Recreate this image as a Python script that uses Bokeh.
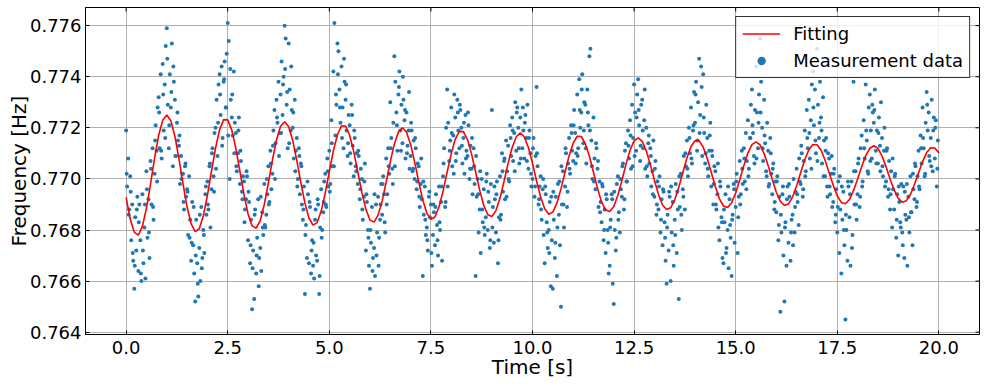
import math
from bokeh.plotting import figure
from bokeh.models import Range1d, PrintfTickFormatter, Legend, LegendItem, FixedTicker
from bokeh.embed import file_html
from bokeh.resources import INLINE

# ---------------- data ----------------
x_ticks = [0.0, 2.5, 5.0, 7.5, 10.0, 12.5, 15.0, 17.5, 20.0]
y_ticks = [0.764, 0.766, 0.768, 0.770, 0.772, 0.774, 0.776]

time_s = [
    0.0, 0.025, 0.05, 0.075, 0.1, 0.125, 0.15, 0.175, 0.2, 0.225, 0.25, 0.275, 0.3, 0.325, 0.35, 0.375, 0.4, 0.425, 0.45, 0.475, 0.5, 0.525, 0.55, 0.575, 0.6, 0.625, 0.65, 0.675, 0.7, 0.725, 0.75, 0.775, 0.8, 0.825, 0.85, 0.875, 0.9, 0.925, 0.95, 0.975,
    1.0, 1.025, 1.05, 1.075, 1.1, 1.125, 1.15, 1.175, 1.2, 1.225, 1.25, 1.275, 1.3, 1.325, 1.35, 1.375, 1.4, 1.425, 1.45, 1.475, 1.5, 1.525, 1.55, 1.575, 1.6, 1.625, 1.65, 1.675, 1.7, 1.725, 1.75, 1.775, 1.8, 1.825, 1.85, 1.875, 1.9, 1.925, 1.95, 1.975,
    2.0, 2.025, 2.05, 2.075, 2.1, 2.125, 2.15, 2.175, 2.2, 2.225, 2.25, 2.275, 2.3, 2.325, 2.35, 2.375, 2.4, 2.425, 2.45, 2.475, 2.5, 2.525, 2.55, 2.575, 2.6, 2.625, 2.65, 2.675, 2.7, 2.725, 2.75, 2.775, 2.8, 2.825, 2.85, 2.875, 2.9, 2.925, 2.95, 2.975,
    3.0, 3.025, 3.05, 3.075, 3.1, 3.125, 3.15, 3.175, 3.2, 3.225, 3.25, 3.275, 3.3, 3.325, 3.35, 3.375, 3.4, 3.425, 3.45, 3.475, 3.5, 3.525, 3.55, 3.575, 3.6, 3.625, 3.65, 3.675, 3.7, 3.725, 3.75, 3.775, 3.8, 3.825, 3.85, 3.875, 3.9, 3.925, 3.95, 3.975,
    4.0, 4.025, 4.05, 4.075, 4.1, 4.125, 4.15, 4.175, 4.2, 4.225, 4.25, 4.275, 4.3, 4.325, 4.35, 4.375, 4.4, 4.425, 4.45, 4.475, 4.5, 4.525, 4.55, 4.575, 4.6, 4.625, 4.65, 4.675, 4.7, 4.725, 4.75, 4.775, 4.8, 4.825, 4.85, 4.875, 4.9, 4.925, 4.95, 4.975,
    5.0, 5.025, 5.05, 5.075, 5.1, 5.125, 5.15, 5.175, 5.2, 5.225, 5.25, 5.275, 5.3, 5.325, 5.35, 5.375, 5.4, 5.425, 5.45, 5.475, 5.5, 5.525, 5.55, 5.575, 5.6, 5.625, 5.65, 5.675, 5.7, 5.725, 5.75, 5.775, 5.8, 5.825, 5.85, 5.875, 5.9, 5.925, 5.95, 5.975,
    6.0, 6.025, 6.05, 6.075, 6.1, 6.125, 6.15, 6.175, 6.2, 6.225, 6.25, 6.275, 6.3, 6.325, 6.35, 6.375, 6.4, 6.425, 6.45, 6.475, 6.5, 6.525, 6.55, 6.575, 6.6, 6.625, 6.65, 6.675, 6.7, 6.725, 6.75, 6.775, 6.8, 6.825, 6.85, 6.875, 6.9, 6.925, 6.95, 6.975,
    7.0, 7.025, 7.05, 7.075, 7.1, 7.125, 7.15, 7.175, 7.2, 7.225, 7.25, 7.275, 7.3, 7.325, 7.35, 7.375, 7.4, 7.425, 7.45, 7.475, 7.5, 7.525, 7.55, 7.575, 7.6, 7.625, 7.65, 7.675, 7.7, 7.725, 7.75, 7.775, 7.8, 7.825, 7.85, 7.875, 7.9, 7.925, 7.95, 7.975,
    8.0, 8.025, 8.05, 8.075, 8.1, 8.125, 8.15, 8.175, 8.2, 8.225, 8.25, 8.275, 8.3, 8.325, 8.35, 8.375, 8.4, 8.425, 8.45, 8.475, 8.5, 8.525, 8.55, 8.575, 8.6, 8.625, 8.65, 8.675, 8.7, 8.725, 8.75, 8.775, 8.8, 8.825, 8.85, 8.875, 8.9, 8.925, 8.95, 8.975,
    9.0, 9.025, 9.05, 9.075, 9.1, 9.125, 9.15, 9.175, 9.2, 9.225, 9.25, 9.275, 9.3, 9.325, 9.35, 9.375, 9.4, 9.425, 9.45, 9.475, 9.5, 9.525, 9.55, 9.575, 9.6, 9.625, 9.65, 9.675, 9.7, 9.725, 9.75, 9.775, 9.8, 9.825, 9.85, 9.875, 9.9, 9.925, 9.95, 9.975,
    10.0, 10.025, 10.05, 10.075, 10.1, 10.125, 10.15, 10.175, 10.2, 10.225, 10.25, 10.275, 10.3, 10.325, 10.35, 10.375, 10.4, 10.425, 10.45, 10.475, 10.5, 10.525, 10.55, 10.575, 10.6, 10.625, 10.65, 10.675, 10.7, 10.725, 10.75, 10.775, 10.8, 10.825, 10.85, 10.875, 10.9, 10.925, 10.95, 10.975,
    11.0, 11.025, 11.05, 11.075, 11.1, 11.125, 11.15, 11.175, 11.2, 11.225, 11.25, 11.275, 11.3, 11.325, 11.35, 11.375, 11.4, 11.425, 11.45, 11.475, 11.5, 11.525, 11.55, 11.575, 11.6, 11.625, 11.65, 11.675, 11.7, 11.725, 11.75, 11.775, 11.8, 11.825, 11.85, 11.875, 11.9, 11.925, 11.95, 11.975,
    12.0, 12.025, 12.05, 12.075, 12.1, 12.125, 12.15, 12.175, 12.2, 12.225, 12.25, 12.275, 12.3, 12.325, 12.35, 12.375, 12.4, 12.425, 12.45, 12.475, 12.5, 12.525, 12.55, 12.575, 12.6, 12.625, 12.65, 12.675, 12.7, 12.725, 12.75, 12.775, 12.8, 12.825, 12.85, 12.875, 12.9, 12.925, 12.95, 12.975,
    13.0, 13.025, 13.05, 13.075, 13.1, 13.125, 13.15, 13.175, 13.2, 13.225, 13.25, 13.275, 13.3, 13.325, 13.35, 13.375, 13.4, 13.425, 13.45, 13.475, 13.5, 13.525, 13.55, 13.575, 13.6, 13.625, 13.65, 13.675, 13.7, 13.725, 13.75, 13.775, 13.8, 13.825, 13.85, 13.875, 13.9, 13.925, 13.95, 13.975,
    14.0, 14.025, 14.05, 14.075, 14.1, 14.125, 14.15, 14.175, 14.2, 14.225, 14.25, 14.275, 14.3, 14.325, 14.35, 14.375, 14.4, 14.425, 14.45, 14.475, 14.5, 14.525, 14.55, 14.575, 14.6, 14.625, 14.65, 14.675, 14.7, 14.725, 14.75, 14.775, 14.8, 14.825, 14.85, 14.875, 14.9, 14.925, 14.95, 14.975,
    15.0, 15.025, 15.05, 15.075, 15.1, 15.125, 15.15, 15.175, 15.2, 15.225, 15.25, 15.275, 15.3, 15.325, 15.35, 15.375, 15.4, 15.425, 15.45, 15.475, 15.5, 15.525, 15.55, 15.575, 15.6, 15.625, 15.65, 15.675, 15.7, 15.725, 15.75, 15.775, 15.8, 15.825, 15.85, 15.875, 15.9, 15.925, 15.95, 15.975,
    16.0, 16.025, 16.05, 16.075, 16.1, 16.125, 16.15, 16.175, 16.2, 16.225, 16.25, 16.275, 16.3, 16.325, 16.35, 16.375, 16.4, 16.425, 16.45, 16.475, 16.5, 16.525, 16.55, 16.575, 16.6, 16.625, 16.65, 16.675, 16.7, 16.725, 16.75, 16.775, 16.8, 16.825, 16.85, 16.875, 16.9, 16.925, 16.95, 16.975,
    17.0, 17.025, 17.05, 17.075, 17.1, 17.125, 17.15, 17.175, 17.2, 17.225, 17.25, 17.275, 17.3, 17.325, 17.35, 17.375, 17.4, 17.425, 17.45, 17.475, 17.5, 17.525, 17.55, 17.575, 17.6, 17.625, 17.65, 17.675, 17.7, 17.725, 17.75, 17.775, 17.8, 17.825, 17.85, 17.875, 17.9, 17.925, 17.95, 17.975,
    18.0, 18.025, 18.05, 18.075, 18.1, 18.125, 18.15, 18.175, 18.2, 18.225, 18.25, 18.275, 18.3, 18.325, 18.35, 18.375, 18.4, 18.425, 18.45, 18.475, 18.5, 18.525, 18.55, 18.575, 18.6, 18.625, 18.65, 18.675, 18.7, 18.725, 18.75, 18.775, 18.8, 18.825, 18.85, 18.875, 18.9, 18.925, 18.95, 18.975,
    19.0, 19.025, 19.05, 19.075, 19.1, 19.125, 19.15, 19.175, 19.2, 19.225, 19.25, 19.275, 19.3, 19.325, 19.35, 19.375, 19.4, 19.425, 19.45, 19.475, 19.5, 19.525, 19.55, 19.575, 19.6, 19.625, 19.65, 19.675, 19.7, 19.725, 19.75, 19.775, 19.8, 19.825, 19.85, 19.875, 19.9, 19.925, 19.95, 19.975,
]

freq_hz = [
    0.7719, 0.7697, 0.7708, 0.7688, 0.7701, 0.7676, 0.7690, 0.7668, 0.7657, 0.7685, 0.7672, 0.7693, 0.7664, 0.7690, 0.7676, 0.7660, 0.7694, 0.7667, 0.7681, 0.7661, 0.7703, 0.7677, 0.7692, 0.7669, 0.7707, 0.7690, 0.7712, 0.7684, 0.7702, 0.7721, 0.7711, 0.7728, 0.7732, 0.7712, 0.7741, 0.7708, 0.7745, 0.7719, 0.7737, 0.7752,
    0.7759, 0.7729, 0.7712, 0.7741, 0.7728, 0.7753, 0.7705, 0.7738, 0.7731, 0.7709, 0.7722, 0.7715, 0.7713, 0.7698, 0.7709, 0.7702, 0.7702, 0.7688, 0.7705, 0.7693, 0.7696, 0.7678, 0.7701, 0.7684, 0.7668, 0.7691, 0.7674, 0.7663, 0.7652, 0.7684, 0.7667, 0.7654, 0.7673, 0.7660, 0.7689, 0.7669, 0.7680, 0.7671, 0.7694, 0.7686,
    0.7699, 0.7688, 0.7705, 0.7681, 0.7696, 0.7712, 0.7701, 0.7718, 0.7720, 0.7731, 0.7709, 0.7737, 0.7741, 0.7725, 0.7744, 0.7716, 0.7738, 0.7746, 0.7728, 0.7749, 0.7761, 0.7754, 0.7700, 0.7731, 0.7724, 0.7717, 0.7742, 0.7722, 0.7718, 0.7703, 0.7710, 0.7724, 0.7698, 0.7707, 0.7695, 0.7701, 0.7699, 0.7688, 0.7692, 0.7701,
    0.7676, 0.7691, 0.7667, 0.7684, 0.7649, 0.7672, 0.7653, 0.7688, 0.7663, 0.7677, 0.7692, 0.7669, 0.7673, 0.7664, 0.7687, 0.7678, 0.7698, 0.7681, 0.7686, 0.7694, 0.7705, 0.7691, 0.7711, 0.7696, 0.7702, 0.7719, 0.7727, 0.7714, 0.7731, 0.7722, 0.7738, 0.7718, 0.7733, 0.7746, 0.7725, 0.7740, 0.7760, 0.7755, 0.7729, 0.7712,
    0.7753, 0.7735, 0.7719, 0.7727, 0.7720, 0.7708, 0.7731, 0.7711, 0.7716, 0.7700, 0.7712, 0.7694, 0.7706, 0.7690, 0.7684, 0.7697, 0.7655, 0.7682, 0.7669, 0.7694, 0.7667, 0.7689, 0.7663, 0.7676, 0.7666, 0.7661, 0.7684, 0.7670, 0.7668, 0.7690, 0.7655, 0.7681, 0.7696, 0.7680, 0.7687, 0.7699, 0.7702, 0.7689, 0.7708, 0.7697,
    0.7711, 0.7698, 0.7723, 0.7705, 0.7742, 0.7761, 0.7717, 0.7729, 0.7753, 0.7750, 0.7735, 0.7722, 0.7744, 0.7728, 0.7712, 0.7738, 0.7731, 0.7719, 0.7709, 0.7725, 0.7721, 0.7706, 0.7729, 0.7713, 0.7701, 0.7716, 0.7705, 0.7710, 0.7698, 0.7709, 0.7692, 0.7704, 0.7700, 0.7684, 0.7693, 0.7706, 0.7672, 0.7691, 0.7680, 0.7666,
    0.7657, 0.7675, 0.7689, 0.7669, 0.7673, 0.7662, 0.7690, 0.7679, 0.7693, 0.7677, 0.7684, 0.7698, 0.7686, 0.7701, 0.7694, 0.7679, 0.7708, 0.7694, 0.7712, 0.7702, 0.7730, 0.7716, 0.7704, 0.7722, 0.7748, 0.7738, 0.7726, 0.7711, 0.7733, 0.7742, 0.7719, 0.7729, 0.7714, 0.7731, 0.7723, 0.7708, 0.7726, 0.7713, 0.7719, 0.7704,
    0.7709, 0.7719, 0.7703, 0.7715, 0.7700, 0.7712, 0.7696, 0.7706, 0.7705, 0.7689, 0.7698, 0.7692, 0.7662, 0.7686, 0.7697, 0.7678, 0.7681, 0.7672, 0.7693, 0.7685, 0.7690, 0.7666, 0.7678, 0.7687, 0.7674, 0.7694, 0.7682, 0.7670, 0.7697, 0.7680, 0.7691, 0.7668, 0.7701, 0.7712, 0.7689, 0.7720, 0.7735, 0.7722, 0.7707, 0.7715,
    0.7728, 0.7705, 0.7717, 0.7733, 0.7724, 0.7710, 0.7731, 0.7719, 0.7712, 0.7727, 0.7720, 0.7706, 0.7716, 0.7702, 0.7725, 0.7711, 0.7709, 0.7721, 0.7700, 0.7713, 0.7704, 0.7694, 0.7712, 0.7698, 0.7662, 0.7693, 0.7700, 0.7679, 0.7688, 0.7671, 0.7700, 0.7683, 0.7696, 0.7678, 0.7685, 0.7702, 0.7680, 0.7691, 0.7673, 0.7698,
    0.7727, 0.7689, 0.7675, 0.7692, 0.7679, 0.7699, 0.7667, 0.7685, 0.7701, 0.7686, 0.7710, 0.7695, 0.7707, 0.7692, 0.7715, 0.7703, 0.7713, 0.7699, 0.7721, 0.7709, 0.7724, 0.7707, 0.7718, 0.7730, 0.7711, 0.7728, 0.7720, 0.7706, 0.7724, 0.7735, 0.7712, 0.7719, 0.7708, 0.7725, 0.7716, 0.7729, 0.7704, 0.7719, 0.7710, 0.7697,
    0.7700, 0.7716, 0.7693, 0.7709, 0.7736, 0.7705, 0.7690, 0.7697, 0.7701, 0.7684, 0.7696, 0.7678, 0.7667, 0.7694, 0.7683, 0.7673, 0.7680, 0.7691, 0.7658, 0.7676, 0.7657, 0.7684, 0.7669, 0.7693, 0.7662, 0.7698, 0.7686, 0.7674, 0.7650, 0.7690, 0.7703, 0.7681, 0.7697, 0.7710, 0.7689, 0.7706, 0.7716, 0.7702, 0.7721, 0.7711,
    0.7707, 0.7727, 0.7718, 0.7710, 0.7733, 0.7712, 0.7739, 0.7720, 0.7726, 0.7741, 0.7714, 0.7730, 0.7729, 0.7706, 0.7735, 0.7721, 0.7748, 0.7751, 0.7715, 0.7700, 0.7724, 0.7708, 0.7696, 0.7712, 0.7704, 0.7689, 0.7699, 0.7691, 0.7683, 0.7697, 0.7676, 0.7688, 0.7671, 0.7692, 0.7680, 0.7663, 0.7666, 0.7684, 0.7694, 0.7659,
    0.7651, 0.7680, 0.7672, 0.7698, 0.7701, 0.7687, 0.7679, 0.7696, 0.7693, 0.7706, 0.7688, 0.7711, 0.7714, 0.7699, 0.7719, 0.7708, 0.7723, 0.7704, 0.7729, 0.7716, 0.7737, 0.7726, 0.7711, 0.7733, 0.7739, 0.7721, 0.7707, 0.7729, 0.7731, 0.7712, 0.7723, 0.7704, 0.7720, 0.7701, 0.7714, 0.7706, 0.7712, 0.7697, 0.7703, 0.7715,
    0.7693, 0.7707, 0.7686, 0.7699, 0.7688, 0.7701, 0.7679, 0.7692, 0.7674, 0.7695, 0.7683, 0.7668, 0.7659, 0.7686, 0.7672, 0.7693, 0.7660, 0.7679, 0.7691, 0.7666, 0.7684, 0.7698, 0.7671, 0.7688, 0.7653, 0.7689, 0.7702, 0.7680, 0.7696, 0.7709, 0.7688, 0.7705, 0.7715, 0.7701, 0.7720, 0.7710, 0.7728, 0.7706, 0.7719, 0.7734,
    0.7722, 0.7738, 0.7711, 0.7730, 0.7747, 0.7725, 0.7744, 0.7709, 0.7741, 0.7718, 0.7706, 0.7729, 0.7716, 0.7701, 0.7711, 0.7722, 0.7697, 0.7709, 0.7690, 0.7705, 0.7703, 0.7688, 0.7694, 0.7681, 0.7676, 0.7697, 0.7685, 0.7669, 0.7667, 0.7683, 0.7694, 0.7673, 0.7680, 0.7665, 0.7692, 0.7677, 0.7662, 0.7686, 0.7698, 0.7675,
    0.7689, 0.7702, 0.7671, 0.7693, 0.7707, 0.7694, 0.7711, 0.7698, 0.7712, 0.7699, 0.7718, 0.7707, 0.7723, 0.7704, 0.7716, 0.7729, 0.7735, 0.7718, 0.7709, 0.7727, 0.7744, 0.7726, 0.7712, 0.7733, 0.7755, 0.7738, 0.7720, 0.7707, 0.7731, 0.7714, 0.7703, 0.7722, 0.7711, 0.7698, 0.7716, 0.7702, 0.7694, 0.7706, 0.7688, 0.7699,
    0.7687, 0.7701, 0.7676, 0.7693, 0.7648, 0.7679, 0.7694, 0.7670, 0.7652, 0.7683, 0.7666, 0.7697, 0.7675, 0.7693, 0.7668, 0.7684, 0.7686, 0.7700, 0.7679, 0.7695, 0.7704, 0.7691, 0.7682, 0.7699, 0.7698, 0.7710, 0.7693, 0.7707, 0.7719, 0.7703, 0.7727, 0.7712, 0.7731, 0.7708, 0.7723, 0.7737, 0.7742, 0.7721, 0.7735, 0.7710,
    0.7751, 0.7729, 0.7716, 0.7738, 0.7724, 0.7706, 0.7732, 0.7715, 0.7701, 0.7716, 0.7697, 0.7710, 0.7708, 0.7694, 0.7702, 0.7689, 0.7691, 0.7704, 0.7683, 0.7696, 0.7679, 0.7699, 0.7671, 0.7688, 0.7663, 0.7684, 0.7695, 0.7674, 0.7645, 0.7680, 0.7668, 0.7697, 0.7685, 0.7666, 0.7699, 0.7678, 0.7738, 0.7690, 0.7703, 0.7684,
    0.7694, 0.7708, 0.7689, 0.7712, 0.7717, 0.7699, 0.7723, 0.7708, 0.7737, 0.7715, 0.7703, 0.7728, 0.7733, 0.7719, 0.7708, 0.7726, 0.7722, 0.7735, 0.7711, 0.7719, 0.7706, 0.7724, 0.7713, 0.7730, 0.7716, 0.7701, 0.7711, 0.7697, 0.7699, 0.7712, 0.7693, 0.7707, 0.7688, 0.7703, 0.7681, 0.7696, 0.7688, 0.7702, 0.7677, 0.7694,
    0.7670, 0.7691, 0.7683, 0.7698, 0.7679, 0.7697, 0.7669, 0.7686, 0.7684, 0.7666, 0.7693, 0.7679, 0.7701, 0.7687, 0.7674, 0.7696, 0.7692, 0.7705, 0.7689, 0.7701, 0.7711, 0.7696, 0.7717, 0.7706, 0.7728, 0.7712, 0.7701, 0.7722, 0.7734, 0.7719, 0.7726, 0.7707, 0.7716, 0.7731, 0.7703, 0.7724, 0.7708, 0.7723, 0.7697, 0.7715,
]

# second interleaved set of samples of the same measurement
time_s_b = [
    0.0125, 0.0625, 0.1125, 0.1625, 0.2125, 0.2625, 0.3125, 0.3625, 0.4125, 0.4625, 0.5125, 0.5625, 0.6125, 0.6625, 0.7125, 0.7625, 0.8125, 0.8625, 0.9125, 0.9625,
    1.0125, 1.0625, 1.1125, 1.1625, 1.2125, 1.2625, 1.3125, 1.3625, 1.4125, 1.4625, 1.5125, 1.5625, 1.6125, 1.6625, 1.7125, 1.7625, 1.8125, 1.8625, 1.9125, 1.9625,
    2.0125, 2.0625, 2.1125, 2.1625, 2.2125, 2.2625, 2.3125, 2.3625, 2.4125, 2.4625, 2.5125, 2.5625, 2.6125, 2.6625, 2.7125, 2.7625, 2.8125, 2.8625, 2.9125, 2.9625,
    3.0125, 3.0625, 3.1125, 3.1625, 3.2125, 3.2625, 3.3125, 3.3625, 3.4125, 3.4625, 3.5125, 3.5625, 3.6125, 3.6625, 3.7125, 3.7625, 3.8125, 3.8625, 3.9125, 3.9625,
    4.0125, 4.0625, 4.1125, 4.1625, 4.2125, 4.2625, 4.3125, 4.3625, 4.4125, 4.4625, 4.5125, 4.5625, 4.6125, 4.6625, 4.7125, 4.7625, 4.8125, 4.8625, 4.9125, 4.9625,
    5.0125, 5.0625, 5.1125, 5.1625, 5.2125, 5.2625, 5.3125, 5.3625, 5.4125, 5.4625, 5.5125, 5.5625, 5.6125, 5.6625, 5.7125, 5.7625, 5.8125, 5.8625, 5.9125, 5.9625,
    6.0125, 6.0625, 6.1125, 6.1625, 6.2125, 6.2625, 6.3125, 6.3625, 6.4125, 6.4625, 6.5125, 6.5625, 6.6125, 6.6625, 6.7125, 6.7625, 6.8125, 6.8625, 6.9125, 6.9625,
    7.0125, 7.0625, 7.1125, 7.1625, 7.2125, 7.2625, 7.3125, 7.3625, 7.4125, 7.4625, 7.5125, 7.5625, 7.6125, 7.6625, 7.7125, 7.7625, 7.8125, 7.8625, 7.9125, 7.9625,
    8.0125, 8.0625, 8.1125, 8.1625, 8.2125, 8.2625, 8.3125, 8.3625, 8.4125, 8.4625, 8.5125, 8.5625, 8.6125, 8.6625, 8.7125, 8.7625, 8.8125, 8.8625, 8.9125, 8.9625,
    9.0125, 9.0625, 9.1125, 9.1625, 9.2125, 9.2625, 9.3125, 9.3625, 9.4125, 9.4625, 9.5125, 9.5625, 9.6125, 9.6625, 9.7125, 9.7625, 9.8125, 9.8625, 9.9125, 9.9625,
    10.0125, 10.0625, 10.1125, 10.1625, 10.2125, 10.2625, 10.3125, 10.3625, 10.4125, 10.4625, 10.5125, 10.5625, 10.6125, 10.6625, 10.7125, 10.7625, 10.8125, 10.8625, 10.9125, 10.9625,
    11.0125, 11.0625, 11.1125, 11.1625, 11.2125, 11.2625, 11.3125, 11.3625, 11.4125, 11.4625, 11.5125, 11.5625, 11.6125, 11.6625, 11.7125, 11.7625, 11.8125, 11.8625, 11.9125, 11.9625,
    12.0125, 12.0625, 12.1125, 12.1625, 12.2125, 12.2625, 12.3125, 12.3625, 12.4125, 12.4625, 12.5125, 12.5625, 12.6125, 12.6625, 12.7125, 12.7625, 12.8125, 12.8625, 12.9125, 12.9625,
    13.0125, 13.0625, 13.1125, 13.1625, 13.2125, 13.2625, 13.3125, 13.3625, 13.4125, 13.4625, 13.5125, 13.5625, 13.6125, 13.6625, 13.7125, 13.7625, 13.8125, 13.8625, 13.9125, 13.9625,
    14.0125, 14.0625, 14.1125, 14.1625, 14.2125, 14.2625, 14.3125, 14.3625, 14.4125, 14.4625, 14.5125, 14.5625, 14.6125, 14.6625, 14.7125, 14.7625, 14.8125, 14.8625, 14.9125, 14.9625,
    15.0125, 15.0625, 15.1125, 15.1625, 15.2125, 15.2625, 15.3125, 15.3625, 15.4125, 15.4625, 15.5125, 15.5625, 15.6125, 15.6625, 15.7125, 15.7625, 15.8125, 15.8625, 15.9125, 15.9625,
    16.0125, 16.0625, 16.1125, 16.1625, 16.2125, 16.2625, 16.3125, 16.3625, 16.4125, 16.4625, 16.5125, 16.5625, 16.6125, 16.6625, 16.7125, 16.7625, 16.8125, 16.8625, 16.9125, 16.9625,
    17.0125, 17.0625, 17.1125, 17.1625, 17.2125, 17.2625, 17.3125, 17.3625, 17.4125, 17.4625, 17.5125, 17.5625, 17.6125, 17.6625, 17.7125, 17.7625, 17.8125, 17.8625, 17.9125, 17.9625,
    18.0125, 18.0625, 18.1125, 18.1625, 18.2125, 18.2625, 18.3125, 18.3625, 18.4125, 18.4625, 18.5125, 18.5625, 18.6125, 18.6625, 18.7125, 18.7625, 18.8125, 18.8625, 18.9125, 18.9625,
    19.0125, 19.0625, 19.1125, 19.1625, 19.2125, 19.2625, 19.3125, 19.3625, 19.4125, 19.4625, 19.5125, 19.5625, 19.6125, 19.6625, 19.7125, 19.7625, 19.8125, 19.8625, 19.9125, 19.9625,
]

freq_hz_b = [
    0.7702, 0.7686, 0.7695, 0.7671, 0.7666, 0.7688, 0.7683, 0.7663, 0.7672, 0.7690, 0.7696, 0.7679, 0.7704, 0.7689, 0.7715, 0.7699, 0.7726, 0.7711, 0.7733, 0.7716,
    0.7747, 0.7721, 0.7734, 0.7744, 0.7709, 0.7726, 0.7717, 0.7700, 0.7691, 0.7706, 0.7695, 0.7677, 0.7675, 0.7689, 0.7670, 0.7659, 0.7686, 0.7665, 0.7678, 0.7697,
    0.7690, 0.7706, 0.7710, 0.7695, 0.7704, 0.7722, 0.7733, 0.7713, 0.7739, 0.7728, 0.7717, 0.7743, 0.7733, 0.7710, 0.7705, 0.7719, 0.7711, 0.7692, 0.7683, 0.7703,
    0.7695, 0.7674, 0.7665, 0.7686, 0.7670, 0.7658, 0.7693, 0.7681, 0.7682, 0.7700, 0.7690, 0.7706, 0.7713, 0.7700, 0.7724, 0.7709, 0.7718, 0.7737, 0.7743, 0.7734,
    0.7714, 0.7744, 0.7726, 0.7703, 0.7697, 0.7709, 0.7705, 0.7688, 0.7678, 0.7699, 0.7691, 0.7672, 0.7675, 0.7688, 0.7692, 0.7662, 0.7677, 0.7691, 0.7690, 0.7703,
    0.7695, 0.7714, 0.7705, 0.7733, 0.7741, 0.7728, 0.7716, 0.7747, 0.7737, 0.7714, 0.7710, 0.7725, 0.7719, 0.7703, 0.7711, 0.7696, 0.7688, 0.7699, 0.7694, 0.7677,
    0.7680, 0.7664, 0.7694, 0.7670, 0.7666, 0.7690, 0.7698, 0.7683, 0.7690, 0.7705, 0.7712, 0.7698, 0.7705, 0.7721, 0.7736, 0.7711, 0.7740, 0.7727, 0.7710, 0.7734,
    0.7722, 0.7704, 0.7716, 0.7699, 0.7693, 0.7708, 0.7699, 0.7684, 0.7676, 0.7695, 0.7671, 0.7690, 0.7689, 0.7676, 0.7683, 0.7697, 0.7706, 0.7691, 0.7697, 0.7711,
    0.7718, 0.7702, 0.7707, 0.7726, 0.7729, 0.7713, 0.7722, 0.7708, 0.7726, 0.7704, 0.7716, 0.7705, 0.7709, 0.7694, 0.7703, 0.7688, 0.7681, 0.7699, 0.7695, 0.7676,
    0.7681, 0.7697, 0.7694, 0.7676, 0.7684, 0.7703, 0.7708, 0.7693, 0.7700, 0.7716, 0.7719, 0.7703, 0.7726, 0.7712, 0.7708, 0.7728, 0.7722, 0.7707, 0.7716, 0.7702,
    0.7712, 0.7697, 0.7710, 0.7692, 0.7688, 0.7700, 0.7697, 0.7679, 0.7671, 0.7693, 0.7695, 0.7675, 0.7681, 0.7699, 0.7705, 0.7690, 0.7712, 0.7695, 0.7704, 0.7718,
    0.7721, 0.7706, 0.7709, 0.7727, 0.7735, 0.7719, 0.7712, 0.7726, 0.7719, 0.7705, 0.7699, 0.7714, 0.7707, 0.7687, 0.7698, 0.7680, 0.7694, 0.7675, 0.7681, 0.7692,
    0.7695, 0.7677, 0.7684, 0.7700, 0.7705, 0.7692, 0.7699, 0.7713, 0.7717, 0.7705, 0.7709, 0.7724, 0.7727, 0.7713, 0.7719, 0.7735, 0.7705, 0.7717, 0.7709, 0.7694,
    0.7704, 0.7690, 0.7697, 0.7684, 0.7696, 0.7677, 0.7681, 0.7695, 0.7697, 0.7674, 0.7678, 0.7695, 0.7701, 0.7686, 0.7693, 0.7710, 0.7704, 0.7716, 0.7708, 0.7721,
    0.7733, 0.7715, 0.7718, 0.7736, 0.7724, 0.7710, 0.7704, 0.7717, 0.7711, 0.7698, 0.7690, 0.7706, 0.7699, 0.7683, 0.7688, 0.7671, 0.7697, 0.7682, 0.7684, 0.7696,
    0.7699, 0.7685, 0.7690, 0.7704, 0.7708, 0.7696, 0.7701, 0.7716, 0.7721, 0.7706, 0.7708, 0.7722, 0.7726, 0.7712, 0.7717, 0.7701, 0.7697, 0.7710, 0.7704, 0.7691,
    0.7699, 0.7682, 0.7686, 0.7697, 0.7681, 0.7692, 0.7698, 0.7679, 0.7674, 0.7689, 0.7694, 0.7708, 0.7713, 0.7696, 0.7701, 0.7716, 0.7718, 0.7704, 0.7728, 0.7715,
    0.7707, 0.7722, 0.7719, 0.7701, 0.7711, 0.7693, 0.7697, 0.7709, 0.7702, 0.7686, 0.7689, 0.7701, 0.7697, 0.7680, 0.7686, 0.7699, 0.7694, 0.7673, 0.7703, 0.7690,
    0.7706, 0.7693, 0.7697, 0.7712, 0.7719, 0.7702, 0.7707, 0.7729, 0.7727, 0.7706, 0.7718, 0.7703, 0.7705, 0.7720, 0.7711, 0.7696, 0.7694, 0.7708, 0.7701, 0.7684,
    0.7697, 0.7681, 0.7674, 0.7695, 0.7698, 0.7685, 0.7687, 0.7702, 0.7706, 0.7691, 0.7697, 0.7712, 0.7716, 0.7702, 0.7729, 0.7709, 0.7705, 0.7719, 0.7720, 0.7704,
]

fit_time_s = [
    0.0, 0.1, 0.2, 0.3, 0.4, 0.5, 0.6, 0.7, 0.8, 0.9, 1.0, 1.1, 1.2, 1.3, 1.4, 1.5, 1.6, 1.7, 1.8, 1.9,
    2.0, 2.1, 2.2, 2.3, 2.4, 2.5, 2.6, 2.7, 2.8, 2.9, 3.0, 3.1, 3.2, 3.3, 3.4, 3.5, 3.6, 3.7, 3.8, 3.9,
    4.0, 4.1, 4.2, 4.3, 4.4, 4.5, 4.6, 4.7, 4.8, 4.9, 5.0, 5.1, 5.2, 5.3, 5.4, 5.5, 5.6, 5.7, 5.8, 5.9,
    6.0, 6.1, 6.2, 6.3, 6.4, 6.5, 6.6, 6.7, 6.8, 6.9, 7.0, 7.1, 7.2, 7.3, 7.4, 7.5, 7.6, 7.7, 7.8, 7.9,
    8.0, 8.1, 8.2, 8.3, 8.4, 8.5, 8.6, 8.7, 8.8, 8.9, 9.0, 9.1, 9.2, 9.3, 9.4, 9.5, 9.6, 9.7, 9.8, 9.9,
    10.0, 10.1, 10.2, 10.3, 10.4, 10.5, 10.6, 10.7, 10.8, 10.9, 11.0, 11.1, 11.2, 11.3, 11.4, 11.5, 11.6, 11.7, 11.8, 11.9,
    12.0, 12.1, 12.2, 12.3, 12.4, 12.5, 12.6, 12.7, 12.8, 12.9, 13.0, 13.1, 13.2, 13.3, 13.4, 13.5, 13.6, 13.7, 13.8, 13.9,
    14.0, 14.1, 14.2, 14.3, 14.4, 14.5, 14.6, 14.7, 14.8, 14.9, 15.0, 15.1, 15.2, 15.3, 15.4, 15.5, 15.6, 15.7, 15.8, 15.9,
    16.0, 16.1, 16.2, 16.3, 16.4, 16.5, 16.6, 16.7, 16.8, 16.9, 17.0, 17.1, 17.2, 17.3, 17.4, 17.5, 17.6, 17.7, 17.8, 17.9,
    18.0, 18.1, 18.2, 18.3, 18.4, 18.5, 18.6, 18.7, 18.8, 18.9, 19.0, 19.1, 19.2, 19.3, 19.4, 19.5, 19.6, 19.7, 19.8, 19.9,
    20.0,
]

fit_freq_hz = [
    0.76928, 0.76843, 0.76791, 0.76780, 0.76814, 0.76885, 0.76980, 0.77081, 0.77170, 0.77230,
    0.77250, 0.77228, 0.77167, 0.77079, 0.76981, 0.76890, 0.76824, 0.76794, 0.76805, 0.76856,
    0.76936, 0.77030, 0.77121, 0.77193, 0.77232, 0.77231, 0.77191, 0.77119, 0.77030, 0.76939,
    0.76863, 0.76816, 0.76807, 0.76837, 0.76900, 0.76984, 0.77074, 0.77152, 0.77206, 0.77224,
    0.77204, 0.77150, 0.77072, 0.76985, 0.76905, 0.76846, 0.76819, 0.76829, 0.76874, 0.76945,
    0.77029, 0.77110, 0.77173, 0.77208, 0.77207, 0.77171, 0.77108, 0.77028, 0.76948, 0.76881,
    0.76839, 0.76831, 0.76858, 0.76914, 0.76988, 0.77067, 0.77137, 0.77184, 0.77200, 0.77183,
    0.77135, 0.77066, 0.76989, 0.76918, 0.76866, 0.76842, 0.76851, 0.76891, 0.76953, 0.77027,
    0.77099, 0.77156, 0.77186, 0.77185, 0.77154, 0.77098, 0.77027, 0.76956, 0.76896, 0.76860,
    0.76853, 0.76876, 0.76925, 0.76991, 0.77062, 0.77123, 0.77165, 0.77180, 0.77164, 0.77122,
    0.77061, 0.76992, 0.76929, 0.76883, 0.76862, 0.76870, 0.76905, 0.76961, 0.77026, 0.77090,
    0.77140, 0.77167, 0.77166, 0.77138, 0.77089, 0.77026, 0.76963, 0.76910, 0.76878, 0.76872,
    0.76892, 0.76936, 0.76994, 0.77057, 0.77112, 0.77149, 0.77161, 0.77147, 0.77110, 0.77056,
    0.76995, 0.76939, 0.76898, 0.76880, 0.76887, 0.76918, 0.76967, 0.77025, 0.77082, 0.77126,
    0.77150, 0.77149, 0.77125, 0.77080, 0.77025, 0.76969, 0.76922, 0.76894, 0.76888, 0.76907,
    0.76945, 0.76997, 0.77052, 0.77101, 0.77134, 0.77145, 0.77133, 0.77099, 0.77052, 0.76998,
    0.76948, 0.76912, 0.76896, 0.76902, 0.76929, 0.76973, 0.77025, 0.77075, 0.77114, 0.77135,
    0.77134, 0.77113, 0.77073, 0.77024, 0.76975, 0.76933, 0.76908, 0.76903, 0.76919, 0.76954,
    0.77000, 0.77048, 0.77091, 0.77120, 0.77130, 0.77120, 0.77090, 0.77048, 0.77000, 0.76956,
    0.76924, 0.76909, 0.76915, 0.76939, 0.76978, 0.77024, 0.77068, 0.77103, 0.77122, 0.77121,
    0.77102,
]

x_range = (-1.0, 21.0)
y_range = (0.76391, 0.77671)

# ---------------- styling ----------------
FONT = "DejaVu Sans"
BLUE = "#1f77b4"
RED = "#ff0000"

n = min(len(time_s), len(freq_hz))
nb = min(len(time_s_b), len(freq_hz_b))
nf = min(len(fit_time_s), len(fit_freq_hz))
meas_t = time_s[:n] + time_s_b[:nb]
meas_f = freq_hz[:n] + freq_hz_b[:nb]

p = figure(width=985, height=381, x_range=Range1d(*x_range), y_range=Range1d(*y_range),
           output_backend="svg", toolbar_location=None,
           min_border_left=85, min_border_right=6, min_border_top=7, min_border_bottom=0)
p.background_fill_color = "white"
p.border_fill_color = "white"
p.outline_line_color = "black"
p.outline_line_width = 1

for grid in (p.xgrid, p.ygrid):
    grid.grid_line_color = "#b0b0b0"
    grid.grid_line_width = 1

scat = p.scatter(meas_t, meas_f, size=4, fill_color=BLUE, line_color=None)
fit = p.line(fit_time_s[:nf], fit_freq_hz[:nf], line_color=RED, line_width=1.6)
# renderer used only for the (larger) legend marker; NaN keeps it off the plot
legend_dot = p.scatter(x=[float("nan")], y=[float("nan")], size=8, fill_color=BLUE, line_color=None)

# inward ticks on the top and right edges
p.ray(x=x_ticks, y=[y_range[1]] * len(x_ticks), length=4, length_units="screen",
      angle=-math.pi / 2, line_color="black", line_width=1)
p.ray(x=[x_range[1]] * len(y_ticks), y=y_ticks, length=4, length_units="screen",
      angle=math.pi, line_color="black", line_width=1)

def style_axis(ax, ticks, fmt):
    ax.ticker = FixedTicker(ticks=ticks)
    ax.formatter = PrintfTickFormatter(format=fmt)
    ax.axis_line_color = "black"
    ax.major_tick_line_color = "black"
    ax.major_tick_in = 4
    ax.major_tick_out = 0
    ax.minor_tick_in = 0
    ax.minor_tick_out = 0
    ax.major_label_text_font = FONT
    ax.major_label_text_font_size = "18px"
    ax.major_label_text_color = "black"
    ax.axis_label_text_font = FONT
    ax.axis_label_text_font_size = "20px"
    ax.axis_label_text_font_style = "normal"
    ax.axis_label_text_color = "black"

xax = p.below[0]
yax = p.left[0]
style_axis(xax, x_ticks, "%.1f")
style_axis(yax, y_ticks, "%.3f")
xax.axis_label = "Time [s]"
yax.axis_label = "Frequency [Hz]"
xax.major_label_standoff = 6
xax.axis_label_standoff = -2
yax.major_label_standoff = 4
yax.axis_label_standoff = -4

legend = Legend(items=[LegendItem(label="Fitting", renderers=[fit]),
                       LegendItem(label="Measurement data", renderers=[legend_dot])],
                location="top_right")
legend.margin = 9
legend.padding = 6
legend.spacing = 6
legend.glyph_width = 38
legend.glyph_height = 21
legend.label_height = 21
legend.label_standoff = 13
legend.label_text_font = FONT
legend.label_text_font_size = "18px"
legend.label_text_color = "black"
legend.border_line_color = "black"
legend.border_line_alpha = 0.8
legend.border_line_width = 1
legend.background_fill_color = "white"
legend.background_fill_alpha = 0.8
p.add_layout(legend)

open("out.html", "w").write(file_html(p, INLINE))
